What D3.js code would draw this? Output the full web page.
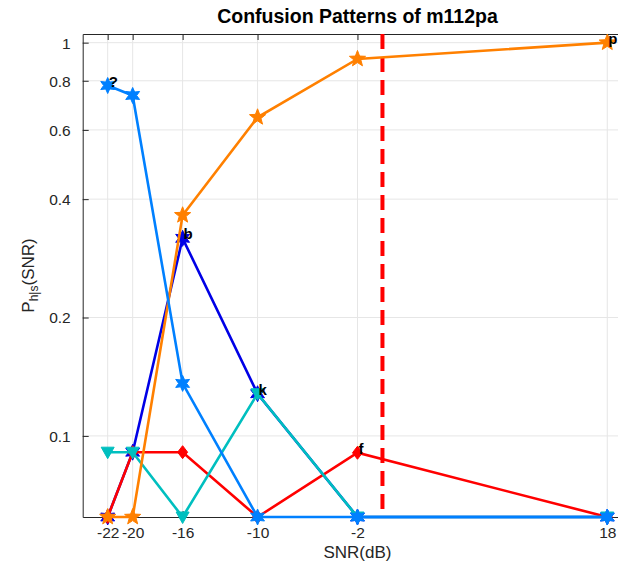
<!DOCTYPE html>
<html>
<head>
<meta charset="utf-8">
<script src="https://cdn.jsdelivr.net/npm/d3@7"></script>
<style>
  html, body { margin: 0; padding: 0; background: #fff; }
  svg { display: block; font-family: "Liberation Sans", Arial, Helvetica, sans-serif; }
</style>
</head>
<body>
<svg id="chart" width="618" height="567"></svg>
<script>
// ---- data ----
const snr = [-22, -20, -16, -10, -2, 18];
const xTicks = [-22, -20, -16, -10, -2, 18];
const yTicks = [0.1, 0.2, 0.4, 0.6, 0.8, 1];
const yTickLabels = ["0.1", "0.2", "0.4", "0.6", "0.8", "1"];
// 0 = not observed (drawn at the bottom of the log axis)
const seriesB   = [0, 0.0909, 0.318, 0.128, 0, 0];      // dark blue, "b"
const seriesF   = [0, 0.0909, 0.0909, 0, 0.0906, 0];    // red, "f"
const seriesK   = [0.0909, 0.0909, 0, 0.128, 0, 0];     // cyan, "k"
const seriesP   = [0, 0, 0.364, 0.646, 0.909, 1.0];     // orange, "p"
const seriesQ   = [0.778, 0.734, 0.136, 0, 0, 0];       // light blue, "?"
const threshold = 0;
const title = "Confusion Patterns of m112pa";

const series = [
  {name: "b", values: seriesB, color: "#0000e6", marker: "hex",  labelAt: 2},
  {name: "f", values: seriesF, color: "#ff0000", marker: "diamond", labelAt: 4},
  {name: "k", values: seriesK, color: "#00bfbf", marker: "tri", labelAt: 3},
  {name: "p", values: seriesP, color: "#ff8000", marker: "pent", labelAt: 5},
  {name: "?", values: seriesQ, color: "#0080ff", marker: "hex", labelAt: 0}
];

// ---- layout ----
const svg = d3.select("#chart");
const L = 82.7, T = 34, B = 517;
const yMin = 0.0622, yMax = 1.052;
const x = d3.scaleLinear().domain([-24, 20]).range([L, L + 44 * 12.49]);
const y = d3.scaleLog().domain([yMin, yMax]).range([B, T]);
const R = x(20);

const g = svg.append("g");

// grid
g.selectAll(".vg").data(xTicks).enter().append("line")
  .attr("x1", d => x(d)).attr("x2", d => x(d)).attr("y1", T).attr("y2", B)
  .attr("stroke", "#e6e6e6").attr("stroke-width", 1);
g.selectAll(".hg").data(yTicks).enter().append("line")
  .attr("x1", L).attr("x2", R).attr("y1", d => y(d)).attr("y2", d => y(d))
  .attr("stroke", "#e6e6e6").attr("stroke-width", 1);

// axes via d3
const axColor = "#262626";
const xAxis = g.append("g").attr("transform", `translate(0,${B})`)
  .call(d3.axisBottom(x).tickValues(xTicks).tickSizeInner(-6).tickSizeOuter(0).tickPadding(10).tickFormat(d => String(d)));
const xAxisTop = g.append("g").attr("transform", `translate(0,${T})`)
  .call(d3.axisTop(x).tickValues(xTicks).tickSizeInner(-6).tickSizeOuter(0).tickFormat(""));
const yAxis = g.append("g").attr("transform", `translate(${L},0)`)
  .call(d3.axisLeft(y).tickValues(yTicks).tickSizeInner(-6).tickSizeOuter(0).tickPadding(12)
    .tickFormat((d, i) => yTickLabels[i]));
[xAxis, xAxisTop, yAxis].forEach(a => {
  a.select(".domain").attr("stroke", axColor).attr("stroke-width", 1);
  a.selectAll(".tick line").attr("stroke", axColor);
  a.selectAll(".tick text").attr("fill", axColor).style("font-size", "15.5px")
    .style("font-family", "'Liberation Sans', Arial, sans-serif");
});
yAxis.selectAll(".tick text").attr("dy", "0.35em");

// threshold dashed line
g.append("line")
  .attr("x1", x(threshold)).attr("x2", x(threshold)).attr("y1", T).attr("y2", B)
  .attr("stroke", "#ff0000").attr("stroke-width", 4).attr("stroke-dasharray", "15,8");

// marker shapes
function starPath(n, Ro, Ri) {
  const pts = [];
  for (let i = 0; i < 2 * n; i++) {
    const a = -Math.PI / 2 + i * Math.PI / n;
    const r = i % 2 === 0 ? Ro : Ri;
    pts.push([r * Math.cos(a), r * Math.sin(a)]);
  }
  return "M" + pts.map(p => p[0].toFixed(2) + "," + p[1].toFixed(2)).join("L") + "Z";
}
const markerPaths = {
  hex: starPath(6, 8, 4),
  pent: starPath(5, 8.5, 3.6),
  diamond: "M0,-6.5L5,0L0,6.5L-5,0Z",
  tri: "M-6.5,-5L6.5,-5L0,6.5Z"
};

const yv = v => y(Math.max(v, yMin));
const line = d3.line().x((d, i) => x(snr[i])).y(d => yv(d));

series.forEach(s => {
  const sg = g.append("g");
  sg.append("path").datum(s.values).attr("d", line)
    .attr("fill", "none").attr("stroke", s.color).attr("stroke-width", 2.6);
  sg.selectAll("path.m").data(s.values).enter().append("path")
    .attr("class", "m")
    .attr("transform", (d, i) => `translate(${x(snr[i])},${yv(d)})`)
    .attr("d", markerPaths[s.marker])
    .attr("fill", s.color).attr("stroke", s.color).attr("stroke-width", 1);
});

// point labels
series.forEach(s => {
  const i = s.labelAt;
  g.append("text")
    .attr("x", x(snr[i]) + 1).attr("y", yv(s.values[i]) + 1)
    .attr("font-weight", "bold").attr("font-size", 15).attr("fill", "#000")
    .text(s.name);
});

// title
svg.append("text").attr("x", (L + R) / 2).attr("y", 23).attr("text-anchor", "middle")
  .attr("font-weight", "bold").attr("font-size", 19.5).attr("fill", "#000").text(title);

// x label
svg.append("text").attr("x", (L + R) / 2).attr("y", 558).attr("text-anchor", "middle")
  .attr("font-size", 17).attr("fill", axColor).text("SNR(dB)");

// y label with subscript
const yl = svg.append("text").attr("transform", `translate(34,${(T + B) / 2}) rotate(-90)`)
  .attr("text-anchor", "middle").attr("font-size", 17).attr("fill", axColor);
yl.append("tspan").text("P");
yl.append("tspan").attr("font-size", 12).attr("dy", 4).text("h|s");
yl.append("tspan").attr("dy", -4).text("(SNR)");
</script>
</body>
</html>
